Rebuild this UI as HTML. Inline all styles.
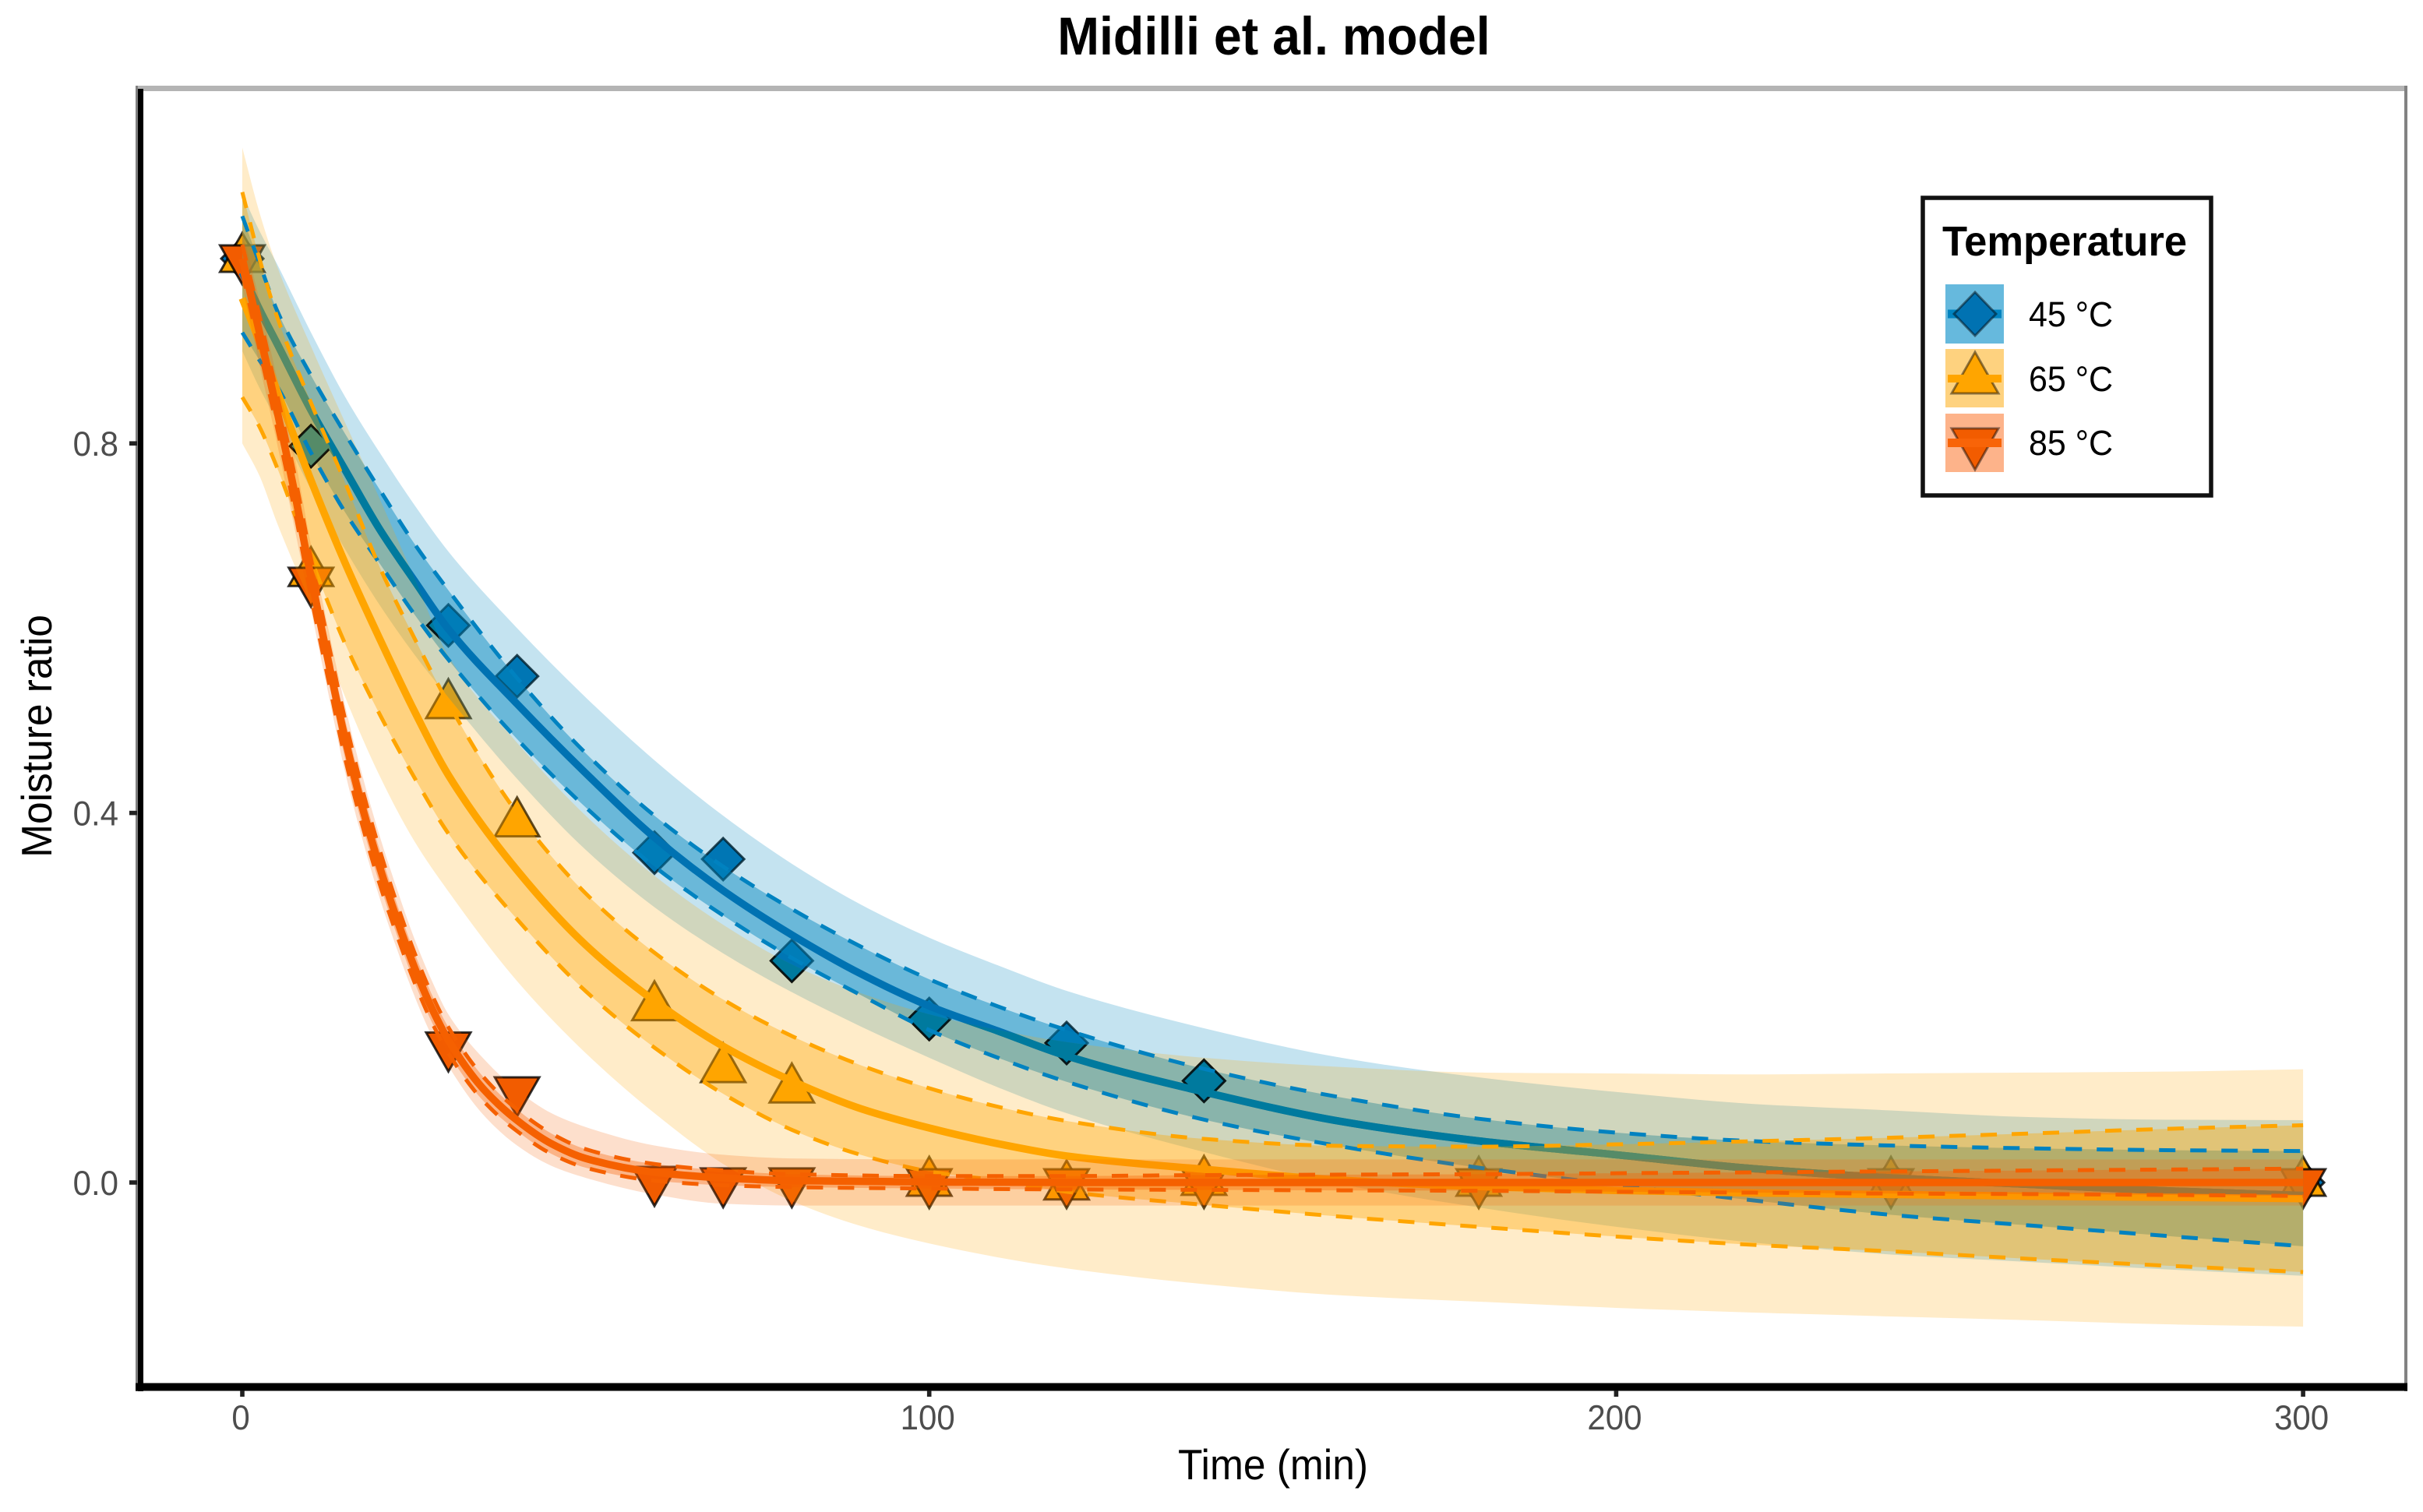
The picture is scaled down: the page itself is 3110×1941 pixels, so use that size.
<!DOCTYPE html>
<html>
<head>
<meta charset="utf-8">
<title>Midilli et al. model</title>
<style>
html,body{margin:0;padding:0;background:#fff}
svg{display:block}
text{font-family:"Liberation Sans",sans-serif}
</style>
</head>
<body>
<svg id="chart" xmlns="http://www.w3.org/2000/svg" width="3110" height="1941" viewBox="0 0 3110 1941">
  <rect x="0" y="0" width="3110" height="1941" fill="#fff"/>
  <text transform="translate(1635,70) scale(1,1.06)" text-anchor="middle" font-size="64.5" font-weight="bold" fill="#000">Midilli et al. model</text>
  <g id="plot-area"></g>
  <rect x="174" y="110" width="2916" height="7" fill="#b4b4b4"/>
  <rect x="3086" y="110" width="4" height="1676" fill="#828282"/>
  <rect x="174" y="110" width="3" height="1676" fill="#808080"/>
  <rect x="177" y="114" width="7" height="1672" fill="#000"/>
  <rect x="174" y="1775.5" width="2916" height="10" fill="#000"/>
  <g id="axis-ticks"></g>
  <text transform="translate(1634,1899) scale(1,1.06)" text-anchor="middle" font-size="51.5" fill="#000">Time (min)</text>
  <text transform="translate(66,945) rotate(-90) scale(1,1.06)" text-anchor="middle" font-size="51.5" fill="#000">Moisture ratio</text>
  <g id="legend">
    <rect x="2468" y="254" width="370" height="382" fill="#fff" stroke="#111" stroke-width="5.5"/>
    <text transform="translate(2493,328) scale(1,1.03)" font-size="52.5" font-weight="bold" fill="#000">Temperature</text>
    <g>
      <rect x="2497" y="365" width="75" height="76" fill="#66b9dd"/>
      <rect x="2500" y="397.5" width="69" height="11" fill="#0083c0"/>
      <polygon points="2535,375 2562,403 2535,431 2508,403" fill="#0072B2" stroke="#000" stroke-opacity="0.45" stroke-width="3"/>
      <text transform="translate(2604,419) scale(1,1.06)" font-size="43" fill="#000">45 °C</text>
    </g>
    <g>
      <rect x="2497" y="448" width="75" height="75" fill="#fed27f"/>
      <polygon points="2535,452 2565,505 2505,505" fill="#FFA500" stroke="#000" stroke-opacity="0.45" stroke-width="3"/>
      <rect x="2500" y="481" width="69" height="10" fill="#FFA500"/>
      <text transform="translate(2604,502) scale(1,1.06)" font-size="43" fill="#000">65 °C</text>
    </g>
    <g>
      <rect x="2497" y="531" width="75" height="75" fill="#fdb38a"/>
      <polygon points="2505,550 2565,550 2535,603" fill="#F25C00" stroke="#000" stroke-opacity="0.45" stroke-width="3"/>
      <rect x="2500" y="563" width="69" height="11" fill="#F86408"/>
      <text transform="translate(2604,584) scale(1,1.06)" font-size="43" fill="#000">85 °C</text>
    </g>
  </g>
</svg>
<script>
// ---- axis tick data ----
const xTicks = [0, 100, 200, 300];
const yTicks = [0, 0.4, 0.8];
const yTickLabels = ['0.0', '0.4', '0.8'];

// ---- measured points ----
const pointTimes = [0, 10, 30, 40, 60, 70, 80, 100, 120, 140, 180, 240, 300];
const blueObserved = [1, 0.797, 0.603, 0.548, 0.357, 0.35, 0.24, 0.177, 0.151, 0.11, 0, 0, 0];
const orangeObserved = [1, 0.66, 0.517, 0.389, 0.19, 0.123, 0.101, 0, -0.004, 0.001, 0, 0, 0];
const redObserved = [1, 0.651, 0.148, 0.0995, 0.0025, 0.001, 0.001, 0, 0, 0, 0, 0, 0];

// ---- 45 and 65 degree curves ----
const curveTimes = [0, 2.5, 5, 10, 15, 20, 25, 30, 40, 50, 60, 70, 80, 90, 100, 110, 120, 140, 160, 180, 200, 220, 240, 260, 280, 300];
const blueFit = [0.985, 0.945, 0.909, 0.836, 0.771, 0.707, 0.652, 0.599, 0.518, 0.443, 0.3735, 0.316, 0.268, 0.226, 0.191, 0.164, 0.137, 0.098, 0.066, 0.045, 0.03, 0.015, 0.005, -0.002, -0.009, -0.014];
const blueCiUpper = [1.046, 0.995, 0.945, 0.8735, 0.81, 0.75, 0.692, 0.641, 0.546, 0.4646, 0.397, 0.342, 0.296, 0.2555, 0.22, 0.1906, 0.165, 0.123, 0.092, 0.069, 0.054, 0.0447, 0.04, 0.037, 0.035, 0.034];
const blueCiLower = [0.92, 0.89, 0.8626, 0.79, 0.725, 0.67, 0.6155, 0.566, 0.48, 0.406, 0.342, 0.289, 0.243, 0.203, 0.165, 0.135, 0.109, 0.068, 0.039, 0.016, -0.0025, -0.0194, -0.035, -0.0464, -0.0578, -0.069];
const bluePiUpper = [1.07, 1.03, 0.995, 0.92, 0.85, 0.79, 0.734, 0.683, 0.6, 0.525, 0.457, 0.397, 0.345, 0.301, 0.265, 0.235, 0.2074, 0.167, 0.135, 0.1138, 0.098, 0.085, 0.078, 0.0708, 0.068, 0.0675];
const bluePiLower = [0.9, 0.86, 0.825, 0.75, 0.685, 0.625, 0.572, 0.525, 0.437, 0.36, 0.298, 0.248, 0.206, 0.169, 0.135, 0.103, 0.075, 0.033, -0.002, -0.027, -0.048, -0.065, -0.078, -0.086, -0.094, -0.101];

const orangeFit = [0.957, 0.91, 0.858, 0.76, 0.67, 0.5885, 0.511, 0.441, 0.338, 0.257, 0.1965, 0.1475, 0.11, 0.08, 0.059, 0.042, 0.0287, 0.0143, 0.0025, -0.0045, -0.0086, -0.0114, -0.013, -0.0148, -0.016, -0.0175];
const orangeCiUpper = [1.072, 1.0, 0.9385, 0.844, 0.757, 0.666, 0.59, 0.5186, 0.4, 0.3128, 0.2487, 0.198, 0.1585, 0.127, 0.102, 0.082, 0.0666, 0.0472, 0.0396, 0.0388, 0.0413, 0.0447, 0.0485, 0.053, 0.058, 0.062];
const orangeCiLower = [0.85, 0.818, 0.775, 0.675, 0.5826, 0.5068, 0.439, 0.3777, 0.285, 0.207, 0.146, 0.096, 0.057, 0.03, 0.012, 0.002, -0.01, -0.0242, -0.037, -0.048, -0.0585, -0.0675, -0.0745, -0.0826, -0.09, -0.097];
const orangePiUpper = [1.12, 1.05, 0.993, 0.905, 0.822, 0.74, 0.655, 0.57, 0.476, 0.397, 0.332, 0.279, 0.236, 0.205, 0.182, 0.165, 0.152, 0.135, 0.125, 0.119, 0.118, 0.117, 0.118, 0.119, 0.12, 0.1226];
const orangePiLower = [0.8, 0.765, 0.715, 0.625, 0.525, 0.44, 0.37, 0.315, 0.218, 0.14, 0.075, 0.02, -0.02, -0.047, -0.066, -0.081, -0.093, -0.11, -0.1222, -0.129, -0.1357, -0.1408, -0.145, -0.149, -0.1535, -0.156];

// ---- 85 degree curves ----
const redTimes = [0, 2.5, 5, 7.5, 10, 12.5, 15, 17.5, 20, 22.5, 25, 27.5, 30, 35, 40, 45, 50, 60, 70, 80, 100, 120, 140, 160, 180, 200, 220, 240, 260, 280, 300];
const redFit = [1.0, 0.92, 0.837, 0.751, 0.655, 0.565, 0.479, 0.4056, 0.3415, 0.285, 0.234, 0.19, 0.154, 0.102, 0.0673, 0.042, 0.026, 0.011, 0.005, 0.002, 0.0005, 0, 0, 0, 0, 0, 0, 0, 0, 0, 0];
const redCiUpper = [1.015, 0.938, 0.855, 0.77, 0.675, 0.585, 0.5, 0.425, 0.36, 0.302, 0.25, 0.205, 0.168, 0.115, 0.079, 0.053, 0.036, 0.02, 0.013, 0.009, 0.007, 0.007, 0.008, 0.0085, 0.009, 0.01, 0.011, 0.012, 0.013, 0.014, 0.015];
const redCiLower = [0.985, 0.902, 0.819, 0.732, 0.635, 0.545, 0.458, 0.386, 0.323, 0.268, 0.218, 0.175, 0.14, 0.089, 0.0556, 0.031, 0.016, 0.002, -0.003, -0.005, -0.0065, -0.0075, -0.008, -0.0085, -0.009, -0.01, -0.011, -0.012, -0.0125, -0.0135, -0.0145];
const redPiUpper = [1.03, 0.955, 0.872, 0.79, 0.69, 0.6, 0.515, 0.44, 0.375, 0.318, 0.265, 0.22, 0.182, 0.135, 0.1, 0.075, 0.06, 0.04, 0.03, 0.026, 0.025, 0.025, 0.025, 0.025, 0.025, 0.025, 0.025, 0.025, 0.025, 0.025, 0.025];
const redPiLower = [0.97, 0.885, 0.802, 0.712, 0.62, 0.53, 0.443, 0.371, 0.308, 0.253, 0.203, 0.16, 0.126, 0.074, 0.04, 0.018, 0.005, -0.013, -0.023, -0.025, -0.025, -0.025, -0.025, -0.025, -0.025, -0.025, -0.025, -0.025, -0.025, -0.025, -0.025];

// ---- axis functions ----
function xScale(t) { return 311 + t * 8.817; }
function yScale(v) { return 1518 - v * 1186; }

const SVG_NS = 'http://www.w3.org/2000/svg';
const plot = document.getElementById('plot-area');
const ticks = document.getElementById('axis-ticks');

function tangents(xs, ys) {
  const n = xs.length, d = [], m = [];
  for (let i = 0; i < n - 1; i++) d.push((ys[i + 1] - ys[i]) / (xs[i + 1] - xs[i]));
  m[0] = d[0];
  m[n - 1] = d[n - 2];
  for (let i = 1; i < n - 1; i++) {
    if (d[i - 1] * d[i] <= 0) { m[i] = 0; continue; }
    const h0 = xs[i] - xs[i - 1], h1 = xs[i + 1] - xs[i];
    const w1 = 2 * h1 + h0, w2 = h1 + 2 * h0;
    m[i] = (w1 + w2) / (w1 / d[i - 1] + w2 / d[i]);
  }
  return m;
}
function forwardPath(xs, ys) {
  const m = tangents(xs, ys);
  let s = '';
  for (let i = 0; i < xs.length - 1; i++) {
    const h = (xs[i + 1] - xs[i]) / 3;
    s += 'C' + (xs[i] + h).toFixed(2) + ' ' + (ys[i] + m[i] * h).toFixed(2) + ' ' +
      (xs[i + 1] - h).toFixed(2) + ' ' + (ys[i + 1] - m[i + 1] * h).toFixed(2) + ' ' +
      xs[i + 1].toFixed(2) + ' ' + ys[i + 1].toFixed(2);
  }
  return s;
}
function backwardPath(xs, ys) {
  const m = tangents(xs, ys);
  let s = '';
  for (let i = xs.length - 1; i > 0; i--) {
    const h = (xs[i] - xs[i - 1]) / 3;
    s += 'C' + (xs[i] - h).toFixed(2) + ' ' + (ys[i] - m[i] * h).toFixed(2) + ' ' +
      (xs[i - 1] + h).toFixed(2) + ' ' + (ys[i - 1] + m[i - 1] * h).toFixed(2) + ' ' +
      xs[i - 1].toFixed(2) + ' ' + ys[i - 1].toFixed(2);
  }
  return s;
}
function linePath(times, values) {
  const xs = times.map(xScale), ys = values.map(yScale);
  return 'M' + xs[0].toFixed(2) + ' ' + ys[0].toFixed(2) + forwardPath(xs, ys);
}
function ribbonPath(times, upper, lower) {
  const xs = times.map(xScale), yu = upper.map(yScale), yl = lower.map(yScale);
  const last = xs.length - 1;
  return 'M' + xs[0].toFixed(2) + ' ' + yu[0].toFixed(2) + forwardPath(xs, yu) +
    'L' + xs[last].toFixed(2) + ' ' + yl[last].toFixed(2) + backwardPath(xs, yl) + 'Z';
}

function drawRibbon(times, upper, lower, fill, opacity, name) {
  const el = document.createElementNS(SVG_NS, 'path');
  el.setAttribute('d', ribbonPath(times, upper, lower));
  el.setAttribute('fill', fill);
  el.setAttribute('fill-opacity', opacity);
  
  
  plot.appendChild(el);
}
function drawCurve(times, values, color, width, dash, name, parent) {
  const el = document.createElementNS(SVG_NS, 'path');
  el.setAttribute('d', linePath(times, values));
  el.setAttribute('fill', 'none');
  el.setAttribute('stroke', color);
  el.setAttribute('stroke-width', width);
  if (dash) el.setAttribute('stroke-dasharray', dash);
  
  
  (parent || plot).appendChild(el);
}
function markerPoints(shape, px, py) {
  if (shape === 'diamond') {
    return px + ',' + (py - 27) + ' ' + (px + 27) + ',' + py + ' ' + px + ',' + (py + 27) + ' ' + (px - 27) + ',' + py;
  }
  if (shape === 'up') {
    return px + ',' + (py - 33) + ' ' + (px + 28.5) + ',' + (py + 17) + ' ' + (px - 28.5) + ',' + (py + 17);
  }
  return (px - 28.5) + ',' + (py - 17) + ' ' + (px + 28.5) + ',' + (py - 17) + ' ' + px + ',' + (py + 33);
}
function drawMarker(t, v, shape, fill, name, parent) {
  const el = document.createElementNS(SVG_NS, 'polygon');
  el.setAttribute('points', markerPoints(shape, xScale(t), yScale(v)));
  el.setAttribute('fill', fill);
  el.setAttribute('stroke', '#000');
  el.setAttribute('stroke-opacity', '0.8');
  el.setAttribute('stroke-width', '3');
  
  
  (parent || plot).appendChild(el);
}
function drawPoints(values, shape, fill, name) {
  values.forEach(function (v, i) {
    drawMarker(pointTimes[i], v, shape, fill, name);
  });
}
// tint of the 45 degree fit and diamonds where an orange band lies over them
function drawTintedBlue(upper, lower, color, id) {
  const clip = document.createElementNS(SVG_NS, 'clipPath');
  clip.setAttribute('id', id);
  const shape = document.createElementNS(SVG_NS, 'path');
  shape.setAttribute('d', ribbonPath(curveTimes, upper, lower));
  clip.appendChild(shape);
  plot.appendChild(clip);
  const group = document.createElementNS(SVG_NS, 'g');
  group.setAttribute('clip-path', 'url(#' + id + ')');
  
  
  plot.appendChild(group);
  blueObserved.forEach(function (v, i) {
    if (pointTimes[i] > 0 && pointTimes[i] <= 140) {
      drawMarker(pointTimes[i], v, 'diamond', color, 'point-45c-tinted', group);
    }
  });
  drawCurve(curveTimes, blueFit, color, 9.5, null, 'fit-line-45c-tinted', group);
}

// points sit beneath every ribbon
drawPoints(blueObserved, 'diamond', '#0072B2', 'point-45c');
drawPoints(orangeObserved, 'up', '#FFA500', 'point-65c');
drawPoints(redObserved, 'down', '#F25C00', 'point-85c');

// 45 degrees bands and fit
drawRibbon(curveTimes, bluePiUpper, bluePiLower, '#0086BE', 0.23, 'prediction-band-45c');
drawRibbon(curveTimes, blueCiUpper, blueCiLower, '#0086BE', 0.46, 'confidence-band-45c');
drawCurve(curveTimes, blueFit, '#0072B2', 9.5, null, 'fit-line-45c');

// 65 degrees bands, tinting the blue beneath them
drawRibbon(curveTimes, orangePiUpper, orangePiLower, '#FFA500', 0.21, 'prediction-band-65c');
drawTintedBlue(orangePiUpper, orangePiLower, '#007A9E', 'blue-under-orange-prediction');
drawRibbon(curveTimes, orangeCiUpper, orangeCiLower, '#FFA500', 0.37, 'confidence-band-65c');
drawTintedBlue(orangeCiUpper, orangeCiLower, '#558B68', 'blue-under-orange-confidence');

// dashed bounds and the 65 degree fit
drawCurve(curveTimes, blueCiUpper, '#0082C0', 5, '21 19', 'confidence-upper-45c');
drawCurve(curveTimes, blueCiLower, '#0082C0', 5, '21 19', 'confidence-lower-45c');
drawCurve(curveTimes, orangeCiUpper, '#FFA500', 5, '21 19', 'confidence-upper-65c');
drawCurve(curveTimes, orangeCiLower, '#FFA500', 5, '21 19', 'confidence-lower-65c');
drawCurve(curveTimes, orangeFit, '#FFA500', 9.5, null, 'fit-line-65c');

// 85 degrees
drawRibbon(redTimes, redPiUpper, redPiLower, '#F55F00', 0.2, 'prediction-band-85c');
drawRibbon(redTimes, redCiUpper, redCiLower, '#F55F00', 0.34, 'confidence-band-85c');
drawCurve(redTimes, redCiUpper, '#F56000', 5, '21 19', 'confidence-upper-85c');
drawCurve(redTimes, redCiLower, '#F56000', 5, '21 19', 'confidence-lower-85c');
drawCurve(redTimes, redFit, '#F56000', 9.5, null, 'fit-line-85c');

// ticks
xTicks.forEach(function (t) {
  const mark = document.createElementNS(SVG_NS, 'rect');
  mark.setAttribute('x', xScale(t) - 2.8);
  mark.setAttribute('y', 1785);
  mark.setAttribute('width', 5.6);
  mark.setAttribute('height', 8);
  mark.setAttribute('fill', '#222');
  
  
  ticks.appendChild(mark);
  const label = document.createElementNS(SVG_NS, 'text');
  label.setAttribute('transform', 'translate(' + (xScale(t) - 2) + ',1835) scale(1,1.06)');
  label.setAttribute('text-anchor', 'middle');
  label.setAttribute('font-size', '42');
  label.setAttribute('fill', '#4d4d4d');
  label.textContent = String(t);
  
  
  ticks.appendChild(label);
});
yTicks.forEach(function (v, i) {
  const mark = document.createElementNS(SVG_NS, 'rect');
  mark.setAttribute('x', 166);
  mark.setAttribute('y', yScale(v) - 2.8);
  mark.setAttribute('width', 10);
  mark.setAttribute('height', 5.6);
  mark.setAttribute('fill', '#222');
  
  
  ticks.appendChild(mark);
  const label = document.createElementNS(SVG_NS, 'text');
  label.setAttribute('transform', 'translate(152,' + (yScale(v) + 16) + ') scale(1,1.06)');
  label.setAttribute('text-anchor', 'end');
  label.setAttribute('font-size', '42');
  label.setAttribute('fill', '#4d4d4d');
  label.textContent = yTickLabels[i];
  
  
  ticks.appendChild(label);
});
</script>
</body>
</html>
